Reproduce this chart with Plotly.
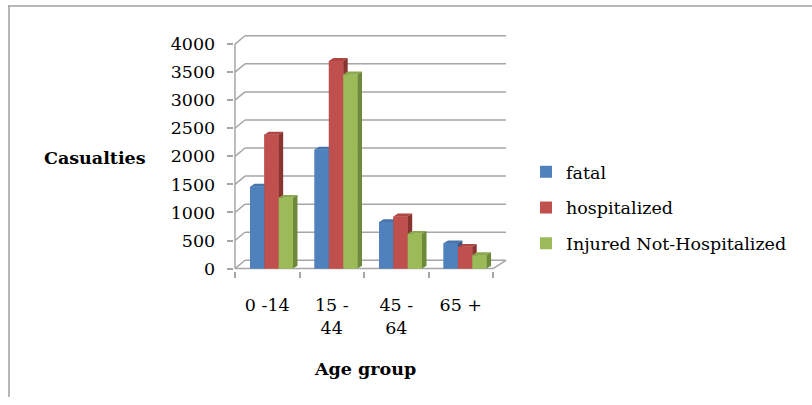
import plotly.graph_objects as go

# ---- data -------------------------------------------------------------
age_groups = ["0 -14", "15 -<br>44", "45 -<br>64", "65 +"]
series_names = ["fatal", "hospitalized", "Injured Not-Hospitalized"]
fatal = [1460, 2120, 830, 450]
hospitalized = [2390, 3700, 930, 390]
injured_not_hosp = [1260, 3460, 620, 240]
y_tick_values = [0, 500, 1000, 1500, 2000, 2500, 3000, 3500, 4000]

# ---- styling ----------------------------------------------------------
front_colors = ["#4F81BD", "#C0504D", "#9BBB59"]
top_colors = ["#4674AB", "#AE4643", "#8BA94F"]
side_colors = ["#36598A", "#8A3432", "#6C8A3A"]
grid_color = "#A6A6A6"
frame_color = "#A0A0A0"
FONT = "DejaVu Serif"

# pseudo-3D geometry, in axis units (x: categories, y: casualties)
BAR_W = 0.222          # width of one column
GROUP_START = 0.233    # offset of the first column inside its category
BAR_DX, BAR_DY = 0.07, 50          # depth of each column
WALL_DX, WALL_DY = 0.155, 148      # depth of the back wall
WALL_RIGHT = 4.2                   # right end of the back wall
N_CAT = len(age_groups)

series_values = [fatal, hospitalized, injured_not_hosp]

fig = go.Figure()

# flat front faces as bars (these carry the legend)
for i, (name, vals) in enumerate(zip(series_names, series_values)):
    xs = [j + GROUP_START + BAR_W * (i + 0.5) for j in range(N_CAT)]
    fig.add_trace(go.Bar(
        x=xs, y=vals, width=BAR_W, name=name, legendgroup=name,
        marker=dict(color=front_colors[i], line=dict(width=0)),
        hoverinfo="y",
    ))


def polys(face, i, vals):
    px, py = [], []
    for j, v in enumerate(vals):
        x0 = j + GROUP_START + BAR_W * i
        x1 = x0 + BAR_W
        if face == "front":
            pts = [(x0, 0), (x1, 0), (x1, v), (x0, v)]
        elif face == "top":
            pts = [(x0, v), (x1, v), (x1 + BAR_DX, v + BAR_DY), (x0 + BAR_DX, v + BAR_DY)]
        else:
            pts = [(x1, 0), (x1 + BAR_DX, BAR_DY), (x1 + BAR_DX, v + BAR_DY), (x1, v)]
        for a, b in pts + [pts[0]]:
            px.append(a)
            py.append(b)
        px.append(None)
        py.append(None)
    return px, py


# shaded faces, drawn series by series so nearer columns hide the sides
for i, vals in enumerate(series_values):
    for face, col in (("front", front_colors[i]), ("top", top_colors[i]), ("side", side_colors[i])):
        px, py = polys(face, i, vals)
        fig.add_trace(go.Scatter(
            x=px, y=py, mode="lines", fill="toself", fillcolor=col,
            line=dict(width=0, color=col), showlegend=False, hoverinfo="skip",
        ))

shapes = []
# back-wall gridlines with their slanted run along the side wall
for v in y_tick_values:
    shapes.append(dict(type="line", xref="x", yref="y", x0=0, y0=v,
                       x1=WALL_DX, y1=v + WALL_DY,
                       line=dict(color=grid_color, width=1.5), layer="below"))
    shapes.append(dict(type="line", xref="x", yref="y", x0=WALL_DX, y0=v + WALL_DY,
                       x1=WALL_RIGHT, y1=v + WALL_DY,
                       line=dict(color=grid_color, width=1.5), layer="below"))
# vertical axis line and floor edges
shapes.append(dict(type="line", xref="x", yref="y", x0=0, y0=0, x1=0, y1=y_tick_values[-1],
                   line=dict(color=grid_color, width=1.5), layer="below"))
shapes.append(dict(type="line", xref="x", yref="y", x0=0, y0=0, x1=N_CAT, y1=0,
                   line=dict(color=grid_color, width=1.5), layer="below"))
shapes.append(dict(type="line", xref="x", yref="y", x0=N_CAT, y0=0, x1=WALL_RIGHT, y1=WALL_DY,
                   line=dict(color=grid_color, width=1.5), layer="below"))
# outer chart frame
shapes.append(dict(type="line", xref="paper", yref="paper", x0=8 / 812, y0=1 - 6 / 405,
                   x1=1, y1=1 - 6 / 405, line=dict(color=frame_color, width=1.5)))
shapes.append(dict(type="line", xref="paper", yref="paper", x0=9 / 812, y0=1 - 6 / 405,
                   x1=9 / 812, y1=0, line=dict(color=frame_color, width=1.5)))

fig.update_layout(
    width=812, height=405, autosize=False,
    margin=dict(l=0, r=0, t=0, b=0),
    paper_bgcolor="white", plot_bgcolor="white",
    barmode="overlay",
    font=dict(family=FONT, size=17.5, color="#000000"),
    shapes=shapes,
    xaxis=dict(
        domain=[233.7 / 812, 512.4 / 812],
        range=[-0.02, 4.3],
        tickmode="array",
        tickvals=[j + 0.5 for j in range(N_CAT)],
        ticktext=age_groups,
        ticks="", showgrid=False, zeroline=False, showline=False,
        ticklabelstandoff=22,
        tickfont=dict(family=FONT, size=17.5),
        minor=dict(tickmode="array", tickvals=list(range(N_CAT + 1)),
                   ticks="outside", ticklen=6, tickcolor=grid_color, tickwidth=1.5,
                   showgrid=False),
    ),
    yaxis=dict(
        domain=[(405 - 276.3) / 405, (405 - 33.5) / 405],
        range=[-40, 4200],
        tickmode="array", tickvals=y_tick_values,
        ticks="outside", ticklen=6, tickcolor=grid_color, tickwidth=1.5,
        showgrid=False, zeroline=False, showline=False,
        ticklabelstandoff=8,
        tickfont=dict(family=FONT, size=17.5),
    ),
    legend=dict(
        x=526 / 812, y=1 - 157 / 405, xanchor="left", yanchor="top",
        font=dict(family=FONT, size=17.5, color="#000000"),
        tracegroupgap=10, bgcolor="rgba(0,0,0,0)",
    ),
    annotations=[
        dict(text="<b>Casualties</b>", x=95 / 812, y=1 - 161 / 405, xref="paper", yref="paper",
             xanchor="center", yanchor="middle",
             showarrow=False, font=dict(family=FONT, size=17.5)),
        dict(text="<b>Age group</b>", x=365 / 812, y=1 - 376 / 405, xref="paper", yref="paper",
             xanchor="center", yanchor="middle",
             showarrow=False, font=dict(family=FONT, size=17.5)),
    ],
)

fig.write_html("out.html")
